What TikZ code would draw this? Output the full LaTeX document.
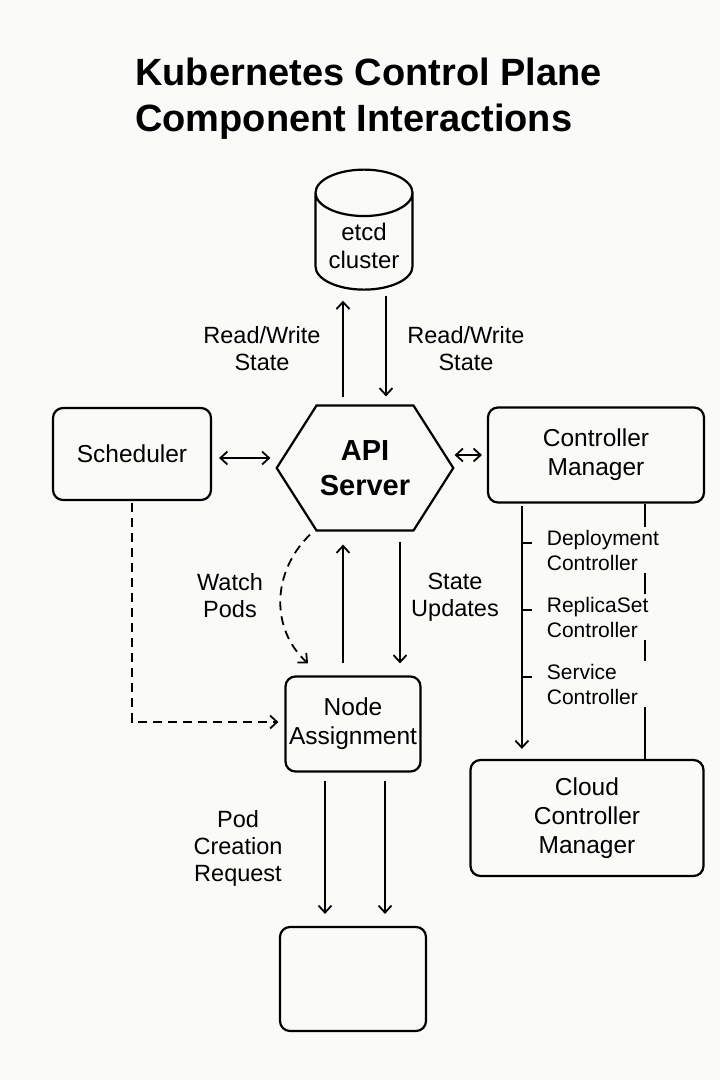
\documentclass[tikz,border=0pt]{standalone}
\usepackage{fontspec}
\setmainfont{Liberation Sans}
\usetikzlibrary{arrows.meta,calc,shapes.geometric,shapes.symbols}
\definecolor{paper}{RGB}{250,250,248}

\begin{document}
\begin{tikzpicture}[x=1pt,y=-1pt,->,>={Straight Barb[length=7pt,width=13pt]},
                    line width=1.8pt]
  \tikzstyle{box}=[rectangle,rounded corners=10pt,draw=black,line width=2.2pt,
                   align=center,font=\fontsize{24.5}{29}\selectfont]
  \tikzstyle{lbl}=[align=center,font=\fontsize{23.5}{27}\selectfont]
  \tikzstyle{sub}=[anchor=west,align=left,fill=paper,text width=112pt,inner sep=3pt,
                   font=\fontsize{21}{25}\selectfont]
  \tikzstyle{dashy}=[dash pattern=on 9pt off 6pt]

  \fill[paper] (0,0) rectangle (720,1080);
  \useasboundingbox (0,0) rectangle (720,1080);

  \node[anchor=north west,align=left,font=\fontsize{38}{46}\selectfont\bfseries] (title)
        at (131,54) {Kubernetes Control Plane\\Component Interactions};

  \node[cylinder,shape border rotate=90,draw,line width=2.2pt,aspect=0.6,
        minimum width=97pt,minimum height=120pt,align=center,
        font=\fontsize{24}{28}\selectfont] (etcd) at (364,246) {etcd\\cluster};
  \node[signal,signal to=west and east,signal pointer angle=115,draw,line width=2.2pt,
        minimum width=144pt,minimum height=125pt,align=center,
        font=\fontsize{29}{35}\selectfont\bfseries] (api) at (365,468) {API\\Server};
  \node[box,minimum width=158pt,minimum height=92pt] (sched) at (132,454) {Scheduler};
  \node[box,minimum width=216pt,minimum height=95pt] (cm) at (596,455) {Controller\\Manager};
  \node[box,minimum width=135pt,minimum height=95pt] (na) at (353,724) {Node\\Assignment};
  \node[box,minimum width=233pt,minimum height=116pt] (ccm) at (587,818) {Cloud\\Controller\\Manager};
  \node[box,minimum width=146pt,minimum height=104pt] (pod) at (353,979) {};

  % labels
  \node[lbl] (rwl) at (262,349) {Read/Write\\State};
  \node[lbl] (rwr) at (466,349) {Read/Write\\State};
  \node[lbl] (watch) at (230,596) {Watch\\Pods};
  \node[lbl] (upd) at (455,597) {State\\Updates};
  \node[lbl] (req) at (238,848) {Pod\\Creation\\Request};

  % api <-> etcd
  \draw[shorten <=7pt,shorten >=10pt] ([xshift=-22pt]api.north) -- ([xshift=-22pt]api.north |- etcd.south);
  \draw[shorten <=5pt,shorten >=8pt] ([xshift=21pt]api.north |- etcd.south) -- ([xshift=21pt]api.north);

  % side links
  \draw[<->,shorten <=7pt,shorten >=5pt] ([yshift=-4pt]sched.east) -- ([yshift=-4pt]sched.east -| api.west);
  \draw[<->,shorten >=5pt] (api.east |- cm.west) -- (cm.west);

  % api <-> node assignment
  \draw[dashy] ([xshift=-55pt,yshift=-3pt]api.south) .. controls +(-38,37) and +(-38,-35) .. ([xshift=-45pt,yshift=12pt]na.north);
  \draw[shorten <=12pt,shorten >=13pt] ([xshift=-22pt]api.south |- na.north) -- ([xshift=-22pt]api.south);
  \draw[shorten <=10pt,shorten >=12pt] ([xshift=35pt]api.south) -- ([xshift=35pt]api.south |- na.north);

  \draw[dashy,shorten <=2pt,shorten >=6pt] (sched.south) |- ([yshift=2pt]na.west);

  % pod creation
  \draw[shorten <=8pt,shorten >=12pt] ([xshift=-28pt]na.south) -- ([xshift=-28pt]na.south |- pod.north);
  \draw[shorten <=8pt,shorten >=12pt] ([xshift=32pt]na.south) -- ([xshift=32pt]na.south |- pod.north);

  % controllers
  \coordinate (trunk) at ([xshift=35pt]cm.south west);
  \draw[shorten <=2pt,shorten >=10pt] (trunk) -- (trunk |- ccm.north);
  \draw[-] ([xshift=49pt]cm.south) -- ([xshift=49pt]cm.south |- ccm.north);
  \node[sub] (dep) at (543,550) {Deployment\\Controller};
  \node[sub] (rs) at (543,617) {ReplicaSet\\Controller};
  \node[sub] (svc) at (543,684) {Service\\Controller};
  \foreach \c in {dep,rs,svc}
    \draw[-] ([yshift=7pt]trunk |- \c.west) -- ++(10,0);

\end{tikzpicture}
\end{document}
